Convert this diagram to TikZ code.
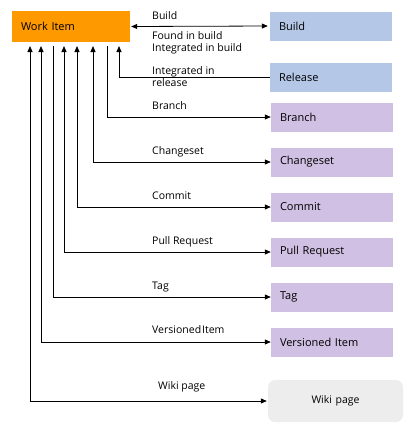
\documentclass[tikz,border=0pt]{standalone}
\usepackage{fontspec}
\setmainfont{Open Sans}
\usepackage{xcolor}
\usetikzlibrary{arrows.meta}
\tikzset{%
  tipA/.tip={Triangle[length=6pt,width=5pt]},
}
\definecolor{wiorange}{HTML}{FF9900}
\definecolor{buildblue}{HTML}{B4C7E7}
\definecolor{vcpurple}{HTML}{D0C0E3}
\definecolor{wikigray}{HTML}{EDEDED}

\begin{document}
\begin{tikzpicture}[x=1pt,y=-1pt,
  box/.style={minimum width=122pt, minimum height=29pt, inner xsep=9pt, text width=104pt, align=left, font=\fontsize{11}{13}\selectfont},
  lbl/.style={anchor=base west, inner sep=0pt, align=left, font=\fontsize{10.5}{12}\selectfont},
  link/.style={line width=0.8pt, color=black}]
\useasboundingbox (0,0) rectangle (411,437);

% boxes
\node[box, fill=wiorange, minimum width=118pt, text width=100pt, minimum height=31pt] (wi) at (71,26.5) {Work Item};
\node[box, fill=buildblue] (build) at (331,26) {Build};
\node[box, fill=buildblue] (rel) at (331,77) {Release};
\node[box, fill=vcpurple] (branch) at (332,117) {Branch};
\node[box, fill=vcpurple] (cs) at (332,162) {Changeset};
\node[box, fill=vcpurple] (commit) at (332,207) {Commit};
\node[box, fill=vcpurple] (pr) at (332,252) {Pull Request};
\node[box, fill=vcpurple] (tag) at (332,297) {Tag};
\node[box, fill=vcpurple] (vi) at (332,342) {Versioned Item};
\node[box, fill=wikigray, rounded corners=7pt, minimum width=135pt, text width=117pt, minimum height=42pt, align=center, font=\fontsize{10.5}{12}\selectfont] (wiki) at (335.5,401) {Wiki page};

% tops of the links below Work Item
\coordinate (trel) at (119,46);
\coordinate (tbranch) at (107,46);
\coordinate (tcs) at (93,46);
\coordinate (tcommit) at (77,46);
\coordinate (tpr) at (64,46);
\coordinate (ttag) at (53,46);
\coordinate (tvi) at (41,46);
\coordinate (twiki) at (30,46);

% links
\draw[link, tipA-tipA, shorten <=1pt, shorten >=2pt] (wi.east) -- (build.west);
\draw[link, -tipA] (rel.west) -| (trel);
\draw[link, -tipA] (tbranch) |- (branch.west);
\draw[link, tipA-tipA] (tcs) |- (cs.west);
\draw[link, tipA-tipA] (tcommit) |- (commit.west);
\draw[link, tipA-tipA] (tpr) |- (pr.west);
\draw[link, -tipA] (ttag) |- (tag.west);
\draw[link, tipA-tipA] (tvi) |- (vi.west);
\draw[link, tipA-tipA, shorten >=1pt] (twiki) |- (wiki.west);

% labels
\node[lbl] (lbuild) at (152,19) {Build};
\node[lbl] (lfound) at (152,51) {Found in build\\Integrated in build};
\node[lbl] (lrel) at (152,86) {Integrated in\\release};
\node[lbl] (lbranch) at (152,109) {Branch};
\node[lbl] (lcs) at (152,154) {Changeset};
\node[lbl] (lcommit) at (152,199) {Commit};
\node[lbl] (lpr) at (152,244) {Pull Request};
\node[lbl] (ltag) at (152,289) {Tag};
\node[lbl] (lvi) at (152,333) {Versioned\kern1pt Item};
\node[lbl] (lwiki) at (158,389) {Wiki page};
\end{tikzpicture}
\end{document}
